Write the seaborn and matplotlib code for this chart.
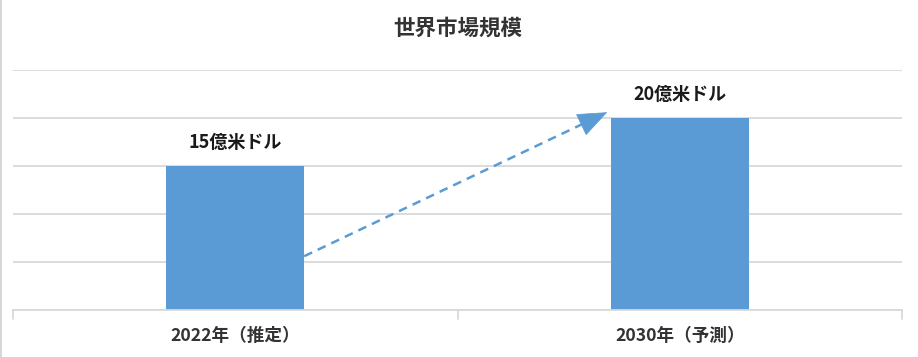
import matplotlib
matplotlib.use("Agg")
import matplotlib.pyplot as plt
import seaborn as sns
import pandas as pd
import numpy as np
from matplotlib.lines import Line2D

categories = ["2022年（推定）", "2030年（予測）"]
values = [15, 20]
value_labels = ["15億米ドル", "20億米ドル"]
title = "世界市場規模"

sns.set_theme(style="white")
plt.rcParams['font.family'] = ['Noto Sans CJK JP', 'DejaVu Sans']

df = pd.DataFrame({"cat": categories, "val": values})

fig = plt.figure(figsize=(9.18, 3.57), dpi=100)
ax = fig.add_axes([13/918, 1-310/357, (902-13)/918, (310-70)/357])

bar_color = "#5B9BD5"
sns.barplot(data=df, x="cat", y="val", color=bar_color, width=0.31,
            saturation=1, ax=ax, edgecolor=bar_color, linewidth=0)

ax.set_ylim(0, 25)
ax.set_xlim(-0.5, 1.5)
ax.set_yticks([0, 5, 10, 15, 20, 25])
ax.yaxis.grid(True, color="#D9D9D9", linewidth=1.3)
ax.set_axisbelow(True)
ax.set_yticklabels([])
ax.tick_params(axis="y", length=0)
ax.set_xlabel("")
ax.set_ylabel("")
for s in ["top", "right", "left"]:
    ax.spines[s].set_visible(False)
ax.spines["bottom"].set_color("#D9D9D9")
ax.spines["bottom"].set_linewidth(1.3)

# x tick labels and boundary ticks
ax.set_xticks([0, 1])
ax.set_xticklabels(categories, fontsize=12.7, fontweight="bold", color="#333333")
ax.tick_params(axis="x", length=0, pad=12)
for xb in [-0.5, 0.5, 1.5]:
    ax.plot([xb, xb], [0, -0.9], color="#D9D9D9", lw=1.3, clip_on=False)

# value labels
for i, (v, lab) in enumerate(zip(values, value_labels)):
    ax.annotate(lab, (i, v), xytext=(0, 10), textcoords="offset points",
                ha="center", va="bottom", fontsize=13, fontweight="bold",
                color="#1a1a1a")

# dashed growth arrow: dashed shaft + solid head
start = np.array([0.155, 5.6])
tip = np.array([0.837, 20.6])
fig.canvas.draw()
to_disp = ax.transData
p0 = to_disp.transform(start)
p1 = to_disp.transform(tip)
d = (p1 - p0) / np.linalg.norm(p1 - p0)
head_len = 20
base = p1 - d * head_len
base_data = to_disp.inverted().transform(base)
shaft_end = to_disp.inverted().transform(base + d * 2)
ax.plot([start[0], shaft_end[0]], [start[1], shaft_end[1]], color=bar_color,
        lw=1.8, linestyle=(0, (3.5, 2.5)), solid_capstyle="butt")
ax.annotate("", xy=tuple(tip), xytext=tuple(base_data),
            arrowprops=dict(arrowstyle="-|>,head_length=1.0,head_width=0.4",
                            mutation_scale=20, color=bar_color, lw=0.5,
                            shrinkA=0, shrinkB=0))

fig.text(458/918, 1-28/357, title, ha="center", va="center",
         fontsize=15.5, fontweight="bold", color="#333333")

fig.add_artist(Line2D([0.0008, 0.0008], [0, 1], color="#D0D0D0", lw=1.2,
                      transform=fig.transFigure))

fig.savefig("out.png", dpi=100)
